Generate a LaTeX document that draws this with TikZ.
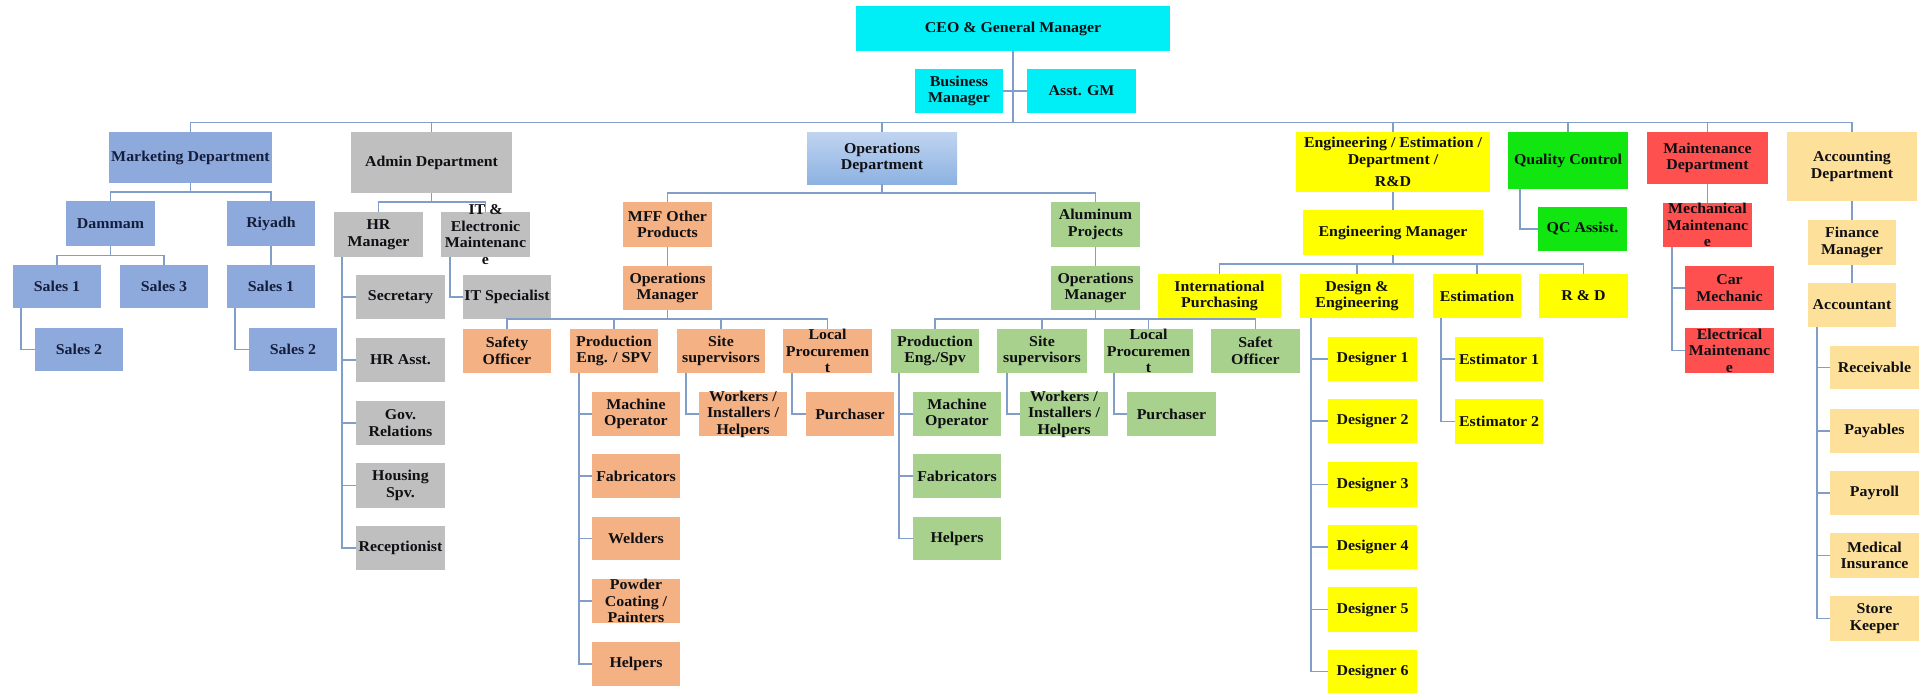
\documentclass[tikz,border=0pt]{standalone}
\usepackage{fontspec}
\setmainfont{Liberation Serif}[FakeStretch=1.06]
\definecolor{cy}{RGB}{0,238,245}
\definecolor{mk}{RGB}{142,169,219}
\definecolor{gy}{RGB}{191,191,191}
\definecolor{og}{RGB}{244,177,131}
\definecolor{gr}{RGB}{169,209,142}
\definecolor{yl}{RGB}{255,255,0}
\definecolor{qg}{RGB}{17,230,17}
\definecolor{rd}{RGB}{255,80,80}
\definecolor{ac}{RGB}{253,225,155}
\definecolor{opt}{RGB}{192,212,240}
\definecolor{opb}{RGB}{140,178,226}
\definecolor{lc}{RGB}{128,158,200}
\definecolor{tx}{RGB}{15,15,20}
\definecolor{nv}{RGB}{20,30,60}
\tikzset{
  conn/.style={draw=lc, line width=1.4pt},
  bx/.style={inner sep=0pt, outer sep=0pt, align=center, text=tx,
    font=\fontsize{15}{16.5}\selectfont\bfseries},
  cyb/.style={bx, fill=cy},
  mkb/.style={bx, fill=mk, text=nv},
  gyb/.style={bx, fill=gy},
  ogb/.style={bx, fill=og},
  grb/.style={bx, fill=gr},
  ylb/.style={bx, fill=yl},
  qgb/.style={bx, fill=qg},
  rdb/.style={bx, fill=rd},
  acb/.style={bx, fill=ac},
  opsb/.style={bx, top color=opt, bottom color=opb},
}
\newcommand{\bxat}[7]{\node[#2, minimum width={(#5)-(#3)}, minimum height={(#6)-(#4)}] (#1) at ({((#3)+(#5))/2},{((#4)+(#6))/2}) {#7};}
\newcommand{\bxlab}[7]{\node[#2, minimum width={(#5)-(#3)}, minimum height={(#6)-(#4)}, label={[bx]center:{#7}}] (#1) at ({((#3)+(#5))/2},{((#4)+(#6))/2}) {};}
\begin{document}
\begin{tikzpicture}[x=1pt,y=-1pt]
\fill[white] (0,0) rectangle (1927,694);
\useasboundingbox (0,0) rectangle (1927,694);
% top
\bxat{ceo}{cyb}{856}{6}{1170}{51}{CEO \& General Manager}
\bxat{bm}{cyb}{915}{69}{1003}{113}{Business\\Manager}
\bxat{agm}{cyb}{1027}{69}{1136}{113}{Asst. GM}
% marketing
\bxat{mkt}{mkb}{109}{132}{272}{183}{Marketing Department}
\bxat{dam}{mkb}{66}{201}{155}{246}{Dammam}
\bxat{riy}{mkb}{227}{201}{315}{246}{Riyadh}
\bxat{ds1}{mkb}{13}{265}{101}{308}{Sales 1}
\bxat{ds3}{mkb}{120}{265}{208}{308}{Sales 3}
\bxat{ds2}{mkb}{35}{328}{123}{371}{Sales 2}
\bxat{rs1}{mkb}{227}{265}{315}{308}{Sales 1}
\bxat{rs2}{mkb}{249}{328}{337}{371}{Sales 2}
% admin
\bxat{adm}{gyb}{351}{132}{512}{193}{Admin Department}
\bxat{hr}{gyb}{334}{212}{423}{257}{HR\\Manager}
\bxlab{it}{gyb}{441}{212}{530}{257}{IT \&\\Electronic\\Maintenanc\\e}
\bxat{sec}{gyb}{356}{275}{445}{319}{Secretary}
\bxat{hra}{gyb}{356}{338}{445}{382}{HR Asst.}
\bxat{gov}{gyb}{356}{401}{445}{445}{Gov.\\Relations}
\bxat{hou}{gyb}{356}{463}{445}{508}{Housing\\Spv.}
\bxat{rec}{gyb}{356}{526}{445}{570}{Receptionist}
\bxat{its}{gyb}{463}{275}{551}{319}{IT Specialist}
% operations
\bxat{ops}{opsb}{807}{132}{957}{184}{Operations\\Department}
\bxat{mff}{ogb}{623}{202}{712}{247}{MFF Other\\Products}
\bxat{om1}{ogb}{623}{266}{712}{310}{Operations\\Manager}
\bxat{so1}{ogb}{463}{329}{551}{373}{Safety\\Officer}
\bxat{pe1}{ogb}{570}{329}{658}{373}{Production\\Eng. / SPV}
\bxat{ss1}{ogb}{677}{329}{765}{373}{Site\\supervisors}
\bxlab{lp1}{ogb}{783}{329}{872}{373}{Local\\Procuremen\\t}
\bxat{mo1}{ogb}{592}{392}{680}{436}{Machine\\Operator}
\bxat{fa1}{ogb}{592}{454}{680}{498}{Fabricators}
\bxat{we1}{ogb}{592}{517}{680}{560}{Welders}
\bxlab{pc1}{ogb}{592}{579}{680}{623}{Powder\\Coating /\\Painters}
\bxat{he1}{ogb}{592}{642}{680}{686}{Helpers}
\bxlab{wk1}{ogb}{699}{392}{787}{436}{Workers /\\Installers /\\Helpers}
\bxat{pu1}{ogb}{806}{392}{894}{436}{Purchaser}
\bxat{alu}{grb}{1051}{202}{1140}{247}{Aluminum\\Projects}
\bxat{om2}{grb}{1051}{266}{1140}{310}{Operations\\Manager}
\bxat{pe2}{grb}{891}{329}{979}{373}{Production\\Eng./Spv}
\bxat{ss2}{grb}{997}{329}{1087}{373}{Site\\supervisors}
\bxlab{lp2}{grb}{1104}{329}{1193}{373}{Local\\Procuremen\\t}
\bxat{so2}{grb}{1211}{329}{1300}{373}{Safet\\Officer}
\bxat{mo2}{grb}{913}{392}{1001}{436}{Machine\\Operator}
\bxat{fa2}{grb}{913}{454}{1001}{498}{Fabricators}
\bxat{he2}{grb}{913}{517}{1001}{560}{Helpers}
\bxlab{wk2}{grb}{1020}{392}{1108}{436}{Workers /\\Installers /\\Helpers}
\bxat{pu2}{grb}{1127}{392}{1216}{436}{Purchaser}
% engineering
\bxat{eng}{ylb}{1296}{132}{1490}{192}{Engineering / Estimation /\\Department /\\[6pt]R\&D}
\bxat{em}{ylb}{1303}{210}{1483}{255}{Engineering Manager}
\bxat{ip}{ylb}{1158}{274}{1281}{318}{International\\Purchasing}
\bxat{de}{ylb}{1300}{274}{1414}{318}{Design \&\\Engineering}
\bxat{est}{ylb}{1433}{274}{1521}{318}{Estimation}
\bxat{rnd}{ylb}{1539}{274}{1628}{318}{R \& D}
\bxat{d1}{ylb}{1328}{337}{1417}{381}{Designer 1}
\bxat{d2}{ylb}{1328}{399}{1417}{443}{Designer 2}
\bxat{d3}{ylb}{1328}{462}{1417}{507}{Designer 3}
\bxat{d4}{ylb}{1328}{525}{1417}{569}{Designer 4}
\bxat{d5}{ylb}{1328}{587}{1417}{632}{Designer 5}
\bxat{d6}{ylb}{1328}{650}{1417}{693}{Designer 6}
\bxat{e1}{ylb}{1455}{337}{1543}{381}{Estimator 1}
\bxat{e2}{ylb}{1455}{399}{1543}{444}{Estimator 2}
% quality
\bxat{qc}{qgb}{1508}{132}{1628}{189}{Quality Control}
\bxat{qca}{qgb}{1538}{207}{1627}{251}{QC Assist.}
% maintenance
\bxat{md}{rdb}{1647}{132}{1768}{184}{Maintenance\\Department}
\bxlab{mm}{rdb}{1663}{203}{1752}{247}{Mechanical\\Maintenanc\\e}
\bxat{car}{rdb}{1685}{266}{1774}{310}{Car\\Mechanic}
\bxlab{el}{rdb}{1685}{328}{1774}{373}{Electrical\\Maintenanc\\e}
% accounting
\bxat{ad}{acb}{1787}{132}{1917}{201}{Accounting\\Department}
\bxat{fm}{acb}{1808}{220}{1896}{265}{Finance\\Manager}
\bxat{acc}{acb}{1808}{283}{1896}{327}{Accountant}
\bxat{rcv}{acb}{1830}{346}{1919}{389}{Receivable}
\bxat{pay}{acb}{1830}{409}{1919}{453}{Payables}
\bxat{prl}{acb}{1830}{471}{1919}{515}{Payroll}
\bxat{med}{acb}{1830}{533}{1919}{578}{Medical\\Insurance}
\bxat{stk}{acb}{1830}{596}{1919}{641}{Store\\Keeper}
% connectors
\coordinate (tb) at (1013,122.5);
\draw[conn] (ceo.south) -- (tb);
\draw[conn] (bm.east) -- (agm.west);
\foreach \d in {mkt,adm,ops,eng,qc,md,ad} {\draw[conn] (tb) -| (\d.north);}
\foreach \c in {dam,riy} {\draw[conn] (mkt.south) -- ++(0,9) -| (\c.north);}
\foreach \c in {ds1,ds3} {\draw[conn] (dam.south) -- ++(0,9.5) -| (\c.north);}
\draw[conn] (riy.south) -- (rs1.north);
\draw[conn] ([xshift=8pt]ds1.south west) |- (ds2.west);
\draw[conn] ([xshift=8pt]rs1.south west) |- (rs2.west);
\foreach \c in {hr,it} {\draw[conn] (adm.south) -- ++(0,9) -| (\c.north);}
\foreach \c in {sec,hra,gov,hou,rec} {\draw[conn] ([xshift=8pt]hr.south west) |- (\c.west);}
\draw[conn] ([xshift=9pt]it.south west) |- (its.west);
\foreach \c in {mff,alu} {\draw[conn] (ops.south) -- ++(0,9) -| (\c.north);}
\draw[conn] (mff.south) -- (om1.north);
\draw[conn] (alu.south) -- (om2.north);
\foreach \c in {so1,pe1,ss1,lp1} {\draw[conn] (om1.south) -- ++(0,9) -| (\c.north);}
\foreach \c in {pe2,ss2,lp2,so2} {\draw[conn] (om2.south) -- ++(0,9) -| (\c.north);}
\foreach \c in {mo1,fa1,we1,pc1,he1} {\draw[conn] ([xshift=9pt]pe1.south west) |- (\c.west);}
\draw[conn] ([xshift=9pt]ss1.south west) |- (wk1.west);
\draw[conn] ([xshift=9pt]lp1.south west) |- (pu1.west);
\foreach \c in {mo2,fa2,he2} {\draw[conn] ([xshift=8pt]pe2.south west) |- (\c.west);}
\draw[conn] ([xshift=10pt]ss2.south west) |- (wk2.west);
\draw[conn] ([xshift=10pt]lp2.south west) |- (pu2.west);
\draw[conn] (eng.south) -- (em.north);
\foreach \c in {ip,de,est,rnd} {\draw[conn] (em.south) -- ++(0,9) -| (\c.north);}
\foreach \c in {d1,d2,d3,d4,d5,d6} {\draw[conn] ([xshift=11pt]de.south west) |- (\c.west);}
\foreach \c in {e1,e2} {\draw[conn] ([xshift=8pt]est.south west) |- (\c.west);}
\draw[conn] ([xshift=12pt]qc.south west) |- (qca.west);
\draw[conn] (md.south) -- (mm.north);
\foreach \c in {car,el} {\draw[conn] ([xshift=9pt]mm.south west) |- (\c.west);}
\draw[conn] (ad.south) -- (fm.north);
\draw[conn] (fm.south) -- (acc.north);
\foreach \c in {rcv,pay,prl,med,stk} {\draw[conn] ([xshift=9pt]acc.south west) |- (\c.west);}
\end{tikzpicture}
\end{document}
